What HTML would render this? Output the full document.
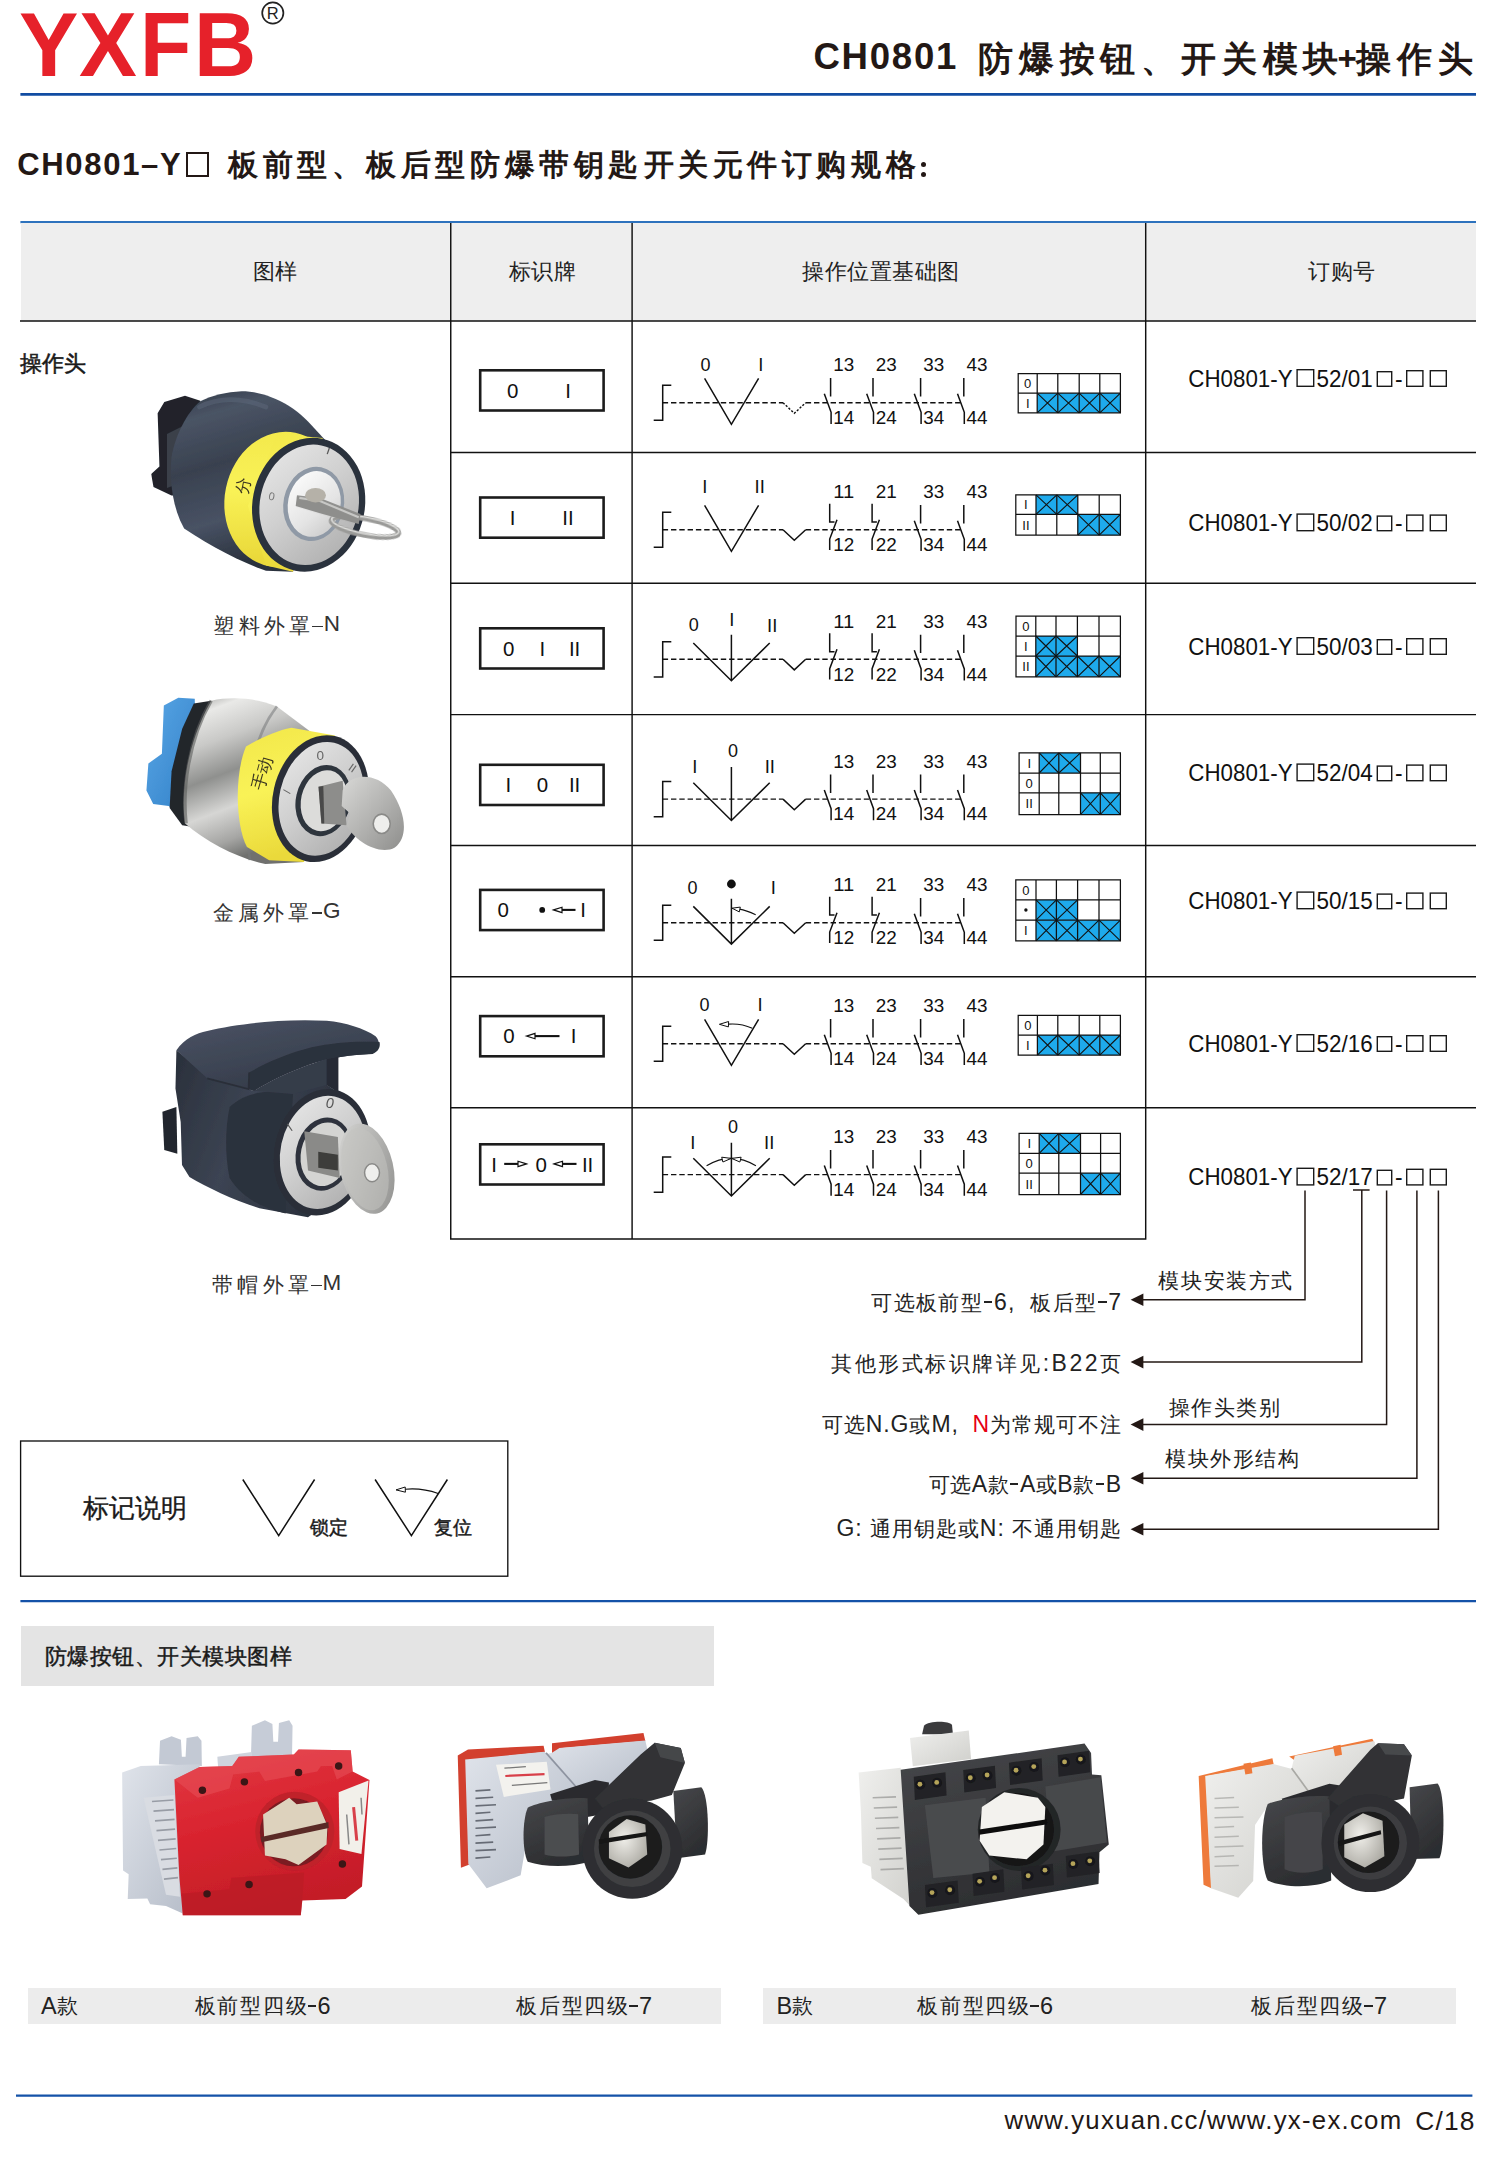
<!DOCTYPE html>
<html lang="zh"><head><meta charset="utf-8"><title>CH0801</title>
<style>
html,body{margin:0;padding:0;background:#fff}
body{width:1500px;height:2162px;position:relative;overflow:hidden;font-family:"Liberation Sans",sans-serif;color:#231815}
.a{position:absolute;white-space:nowrap;line-height:1}
.ln{position:absolute;background:#111}
.bl{position:absolute;background:#1b5fb4}
svg{position:absolute;left:0;top:0;overflow:visible}
svg text{font-family:"Liberation Sans",sans-serif;fill:#111}
.hd{font-size:22px;letter-spacing:0.5px;color:#222}
.cap{font-size:21px;letter-spacing:4.3px;color:#333}
.ord{font-size:23px;color:#1a1a1a}
.co{font-size:21px;letter-spacing:1px;color:#222}.co i{font-style:normal;font-size:23px}.bl2 i{font-style:normal;font-size:23.5px;letter-spacing:0;position:relative;top:0.4px}.bl2 .d{margin:0 1.2px 0 -0.8px;height:2px;vertical-align:6.4px;width:8.5px}.cap i{font-style:normal;font-size:22.5px;letter-spacing:0;position:relative;top:-1.6px;margin-left:-1.3px}.cap .d{width:10.5px;height:1.4px;margin:0 2px 0 -2px;vertical-align:6px;background:#333}.d{display:inline-block;width:8.2px;height:1.7px;background:#222;vertical-align:7.2px;margin:0 1.6px 0 1.2px}
.sq{display:inline-block;box-sizing:border-box;border:1.4px solid #222;vertical-align:baseline}
</style></head><body>
<div class="a" style="left:18.7px;top:0.2px;font-size:90.5px;font-weight:bold;color:#e6212a;line-height:90.5px;transform:scaleX(0.984);transform-origin:0 0">Y</div><div class="a" style="left:79.0px;top:0.2px;font-size:90.5px;font-weight:bold;color:#e6212a;line-height:90.5px;transform:scaleX(0.958);transform-origin:0 0">X</div><div class="a" style="left:139.5px;top:0.2px;font-size:90.5px;font-weight:bold;color:#e6212a;line-height:90.5px;transform:scaleX(0.928);transform-origin:0 0">F</div><div class="a" style="left:193.8px;top:0.2px;font-size:90.5px;font-weight:bold;color:#e6212a;line-height:90.5px;transform:scaleX(0.952);transform-origin:0 0">B</div><svg width="1500" height="110"><circle cx="272.8" cy="13" r="10.6" fill="none" stroke="#222" stroke-width="1.7"/><text x="272.8" y="18.9" text-anchor="middle" font-size="16.5" style="fill:#222">R</text></svg><div class="a" id="t1" style="left:813.4px;top:38.6px;font-size:36.6px;letter-spacing:1.75px;font-weight:bold;color:#231815;">CH0801</div><div class="a" id="t2" style="left:978.4px;top:40.6px;font-size:35px;letter-spacing:5.7px;font-weight:bold;color:#231815;">防爆按钮、</div><div class="a" id="t3" style="left:1181.2px;top:40.6px;font-size:35px;letter-spacing:5.7px;font-weight:bold;color:#231815;">开关模块</div><div class="a" id="t4" style="left:1356.4px;top:40.6px;font-size:35px;letter-spacing:5.7px;font-weight:bold;color:#231815;">操作头</div><div class="a" id="t5" style="left:1337.6px;top:41.9px;font-size:33px;font-weight:bold;color:#231815;">+</div><svg width="1500" height="2162"><path d="M20.4 94.3H1476" stroke="#114ca2" stroke-width="2.8"/><path d="M20.4 222.1H1476" stroke="#2d72bd" stroke-width="2.2"/><path d="M20.4 1601.1H1476" stroke="#1452a8" stroke-width="2.2"/><path d="M16 2095.7H1472.4" stroke="#1452a8" stroke-width="2.3"/></svg><div class="a" id="s1" style="left:17.2px;top:149.4px;font-size:31px;letter-spacing:1.7px;font-weight:bold;color:#231815;">CH0801–Y</div><div class="a" style="left:185.5px;top:152.2px;width:23.5px;height:25px;box-sizing:border-box;border:2px solid #231815"></div><div class="a" id="s2" style="left:228.2px;top:150.2px;font-size:30px;letter-spacing:4.55px;font-weight:bold;color:#231815;">板前型、板后型防爆带钥匙</div><div class="a" id="s3" style="left:643.7px;top:150.2px;font-size:30px;letter-spacing:4.55px;font-weight:bold;color:#231815;">开关元件订购规格</div><div class="a" style="left:921px;top:161.5px;width:5px;height:5px;border-radius:3px;background:#231815"></div><div class="a" style="left:921px;top:172px;width:5px;height:5px;border-radius:3px;background:#231815"></div><div class="a" style="left:21px;top:223px;width:1455px;height:98px;background:#eeeeee"></div><svg width="1500" height="2162"><path d="M20 321.05H1476M450.75 223V1239.5M632.1 223V1239.5M1145.7 223V1239.5M450.75 452.4H1476M450.75 583.2H1476M450.75 714.6H1476M450.75 845.5H1476M450.75 976.8H1476M450.75 1107.8H1476M450 1238.9H1146.4" fill="none" stroke="#111" stroke-width="1.45"/></svg><div class="a hd" style="left:125px;top:260.5px;width:300px;text-align:center">图样</div><div class="a hd" style="left:392.5px;top:260.5px;width:300px;text-align:center">标识牌</div><div class="a hd" style="left:731px;top:260.5px;width:300px;text-align:center">操作位置基础图</div><div class="a hd" style="left:1192px;top:260.5px;width:300px;text-align:center">订购号</div><div class="a" style="left:20px;top:352.5px;font-size:22px;color:#1a1a1a;-webkit-text-stroke:0.55px #1a1a1a">操作头</div><svg width="1500" height="2162"><rect x="480.2" y="370.3" width="123.4" height="40.2" fill="none" stroke="#1c1c1c" stroke-width="2.6"/><text x="512.8" y="397.6" font-size="20.5" text-anchor="middle">0</text><text x="568.2" y="397.6" font-size="20.5" text-anchor="middle">I</text><rect x="480.2" y="497.5" width="123.4" height="40.2" fill="none" stroke="#1c1c1c" stroke-width="2.6"/><text x="512.6" y="524.8" font-size="20.5" text-anchor="middle">I</text><text x="568.0" y="524.8" font-size="20.5" text-anchor="middle">II</text><rect x="480.2" y="628.3" width="123.4" height="40.2" fill="none" stroke="#1c1c1c" stroke-width="2.6"/><text x="508.6" y="655.6" font-size="20.5" text-anchor="middle">0</text><text x="542.4" y="655.6" font-size="20.5" text-anchor="middle">I</text><text x="574.6" y="655.6" font-size="20.5" text-anchor="middle">II</text><rect x="480.2" y="764.8" width="123.4" height="40.2" fill="none" stroke="#1c1c1c" stroke-width="2.6"/><text x="508.4" y="792.1" font-size="20.5" text-anchor="middle">I</text><text x="542.4" y="792.1" font-size="20.5" text-anchor="middle">0</text><text x="574.6" y="792.1" font-size="20.5" text-anchor="middle">II</text><rect x="480.2" y="889.9" width="123.4" height="40.2" fill="none" stroke="#1c1c1c" stroke-width="2.6"/><text x="503.2" y="917.2" font-size="20.5" text-anchor="middle">0</text><text x="583.2" y="917.2" font-size="20.5" text-anchor="middle">I</text><circle cx="542.2" cy="909.9" r="2.9" fill="#111"/><path d="M553.5 909.9L562.0 907.2L562.0 912.6Z" fill="#fff" stroke="#111" stroke-width="1.2" stroke-linejoin="miter"/><path d="M562.0 909.9H575.5" stroke="#111" stroke-width="2.1" fill="none"/><rect x="480.2" y="1016.1" width="123.4" height="40.2" fill="none" stroke="#1c1c1c" stroke-width="2.6"/><text x="509.0" y="1043.4" font-size="20.5" text-anchor="middle">0</text><text x="573.6" y="1043.4" font-size="20.5" text-anchor="middle">I</text><path d="M526.5 1036.1L535.0 1033.4L535.0 1038.8Z" fill="#fff" stroke="#111" stroke-width="1.2" stroke-linejoin="miter"/><path d="M535.0 1036.1H559.5" stroke="#111" stroke-width="2.1" fill="none"/><rect x="480.2" y="1144.3" width="123.4" height="40.2" fill="none" stroke="#1c1c1c" stroke-width="2.6"/><text x="494.0" y="1171.6" font-size="20.5" text-anchor="middle">I</text><text x="541.2" y="1171.6" font-size="20.5" text-anchor="middle">0</text><text x="587.6" y="1171.6" font-size="20.5" text-anchor="middle">II</text><path d="M526.5 1163.9L518.0 1161.2L518.0 1166.6Z" fill="#fff" stroke="#111" stroke-width="1.2"/><path d="M504.2 1163.9H518.0" stroke="#111" stroke-width="2.1" fill="none"/><path d="M554.0 1163.9L562.5 1161.2L562.5 1166.6Z" fill="#fff" stroke="#111" stroke-width="1.2" stroke-linejoin="miter"/><path d="M562.5 1163.9H576.5" stroke="#111" stroke-width="2.1" fill="none"/></svg><svg width="1500" height="2162"><path d="M671.3 385.2H662.7V420.3H653.7" fill="none" stroke="#111" stroke-width="1.5" /><path d="M662.7 402.7H783" fill="none" stroke="#111" stroke-width="1.45" stroke-dasharray="5.4 2.9"/><path d="M805.7 402.7H960.5" fill="none" stroke="#111" stroke-width="1.45" stroke-dasharray="5.4 2.9"/><path d="M783 402.7L794.3 413.3L805.7 402.7" fill="none" stroke="#111" stroke-width="1.45" stroke-dasharray="2.2 1.6"/><path d="M704.6 378.3L731.4 424.3L758.6 378.3" fill="none" stroke="#111" stroke-width="1.5" stroke-linejoin="miter"/><text x="705.5" y="371.3" font-size="18" text-anchor="middle">0</text><text x="760.9" y="370.8" font-size="18.5" text-anchor="middle">I</text><path d="M830.6 378.1V396.5 M824.3 393.7L831.1 412.3V423.9" fill="none" stroke="#111" stroke-width="1.5" /><text x="833.3" y="371.1" font-size="18" textLength="21" lengthAdjust="spacingAndGlyphs">13</text><text x="833.3" y="423.9" font-size="18" textLength="21" lengthAdjust="spacingAndGlyphs">14</text><path d="M873.0 378.1V396.5 M866.7 393.7L873.5 412.3V423.9" fill="none" stroke="#111" stroke-width="1.5" /><text x="875.7" y="371.1" font-size="18" textLength="21" lengthAdjust="spacingAndGlyphs">23</text><text x="875.7" y="423.9" font-size="18" textLength="21" lengthAdjust="spacingAndGlyphs">24</text><path d="M920.6 378.1V396.5 M914.3 393.7L921.1 412.3V423.9" fill="none" stroke="#111" stroke-width="1.5" /><text x="923.3" y="371.1" font-size="18" textLength="21" lengthAdjust="spacingAndGlyphs">33</text><text x="923.3" y="423.9" font-size="18" textLength="21" lengthAdjust="spacingAndGlyphs">34</text><path d="M963.8 378.1V396.5 M957.5 393.7L964.3 412.3V423.9" fill="none" stroke="#111" stroke-width="1.5" /><text x="966.5" y="371.1" font-size="18" textLength="21" lengthAdjust="spacingAndGlyphs">43</text><text x="966.5" y="423.9" font-size="18" textLength="21" lengthAdjust="spacingAndGlyphs">44</text><path d="M671.3 512.2H662.7V547.3H653.7" fill="none" stroke="#111" stroke-width="1.5" /><path d="M662.7 529.7H783" fill="none" stroke="#111" stroke-width="1.45" stroke-dasharray="5.4 2.9"/><path d="M805.7 529.7H960.5" fill="none" stroke="#111" stroke-width="1.45" stroke-dasharray="5.4 2.9"/><path d="M783 529.7L794.3 540.3L805.7 529.7" fill="none" stroke="#111" stroke-width="1.5" /><path d="M704.6 505.3L731.4 551.3L758.6 505.3" fill="none" stroke="#111" stroke-width="1.5" stroke-linejoin="miter"/><text x="704.8" y="493.4" font-size="18.5" text-anchor="middle">I</text><text x="759.7" y="493.4" font-size="18.5" text-anchor="middle">II</text><path d="M829.7 503.7V522.1H834.5 M837.0 519.7L829.7 539.1V549.9" fill="none" stroke="#111" stroke-width="1.5" /><text x="833.3" y="498.1" font-size="18" textLength="21" lengthAdjust="spacingAndGlyphs">11</text><text x="833.3" y="550.9" font-size="18" textLength="21" lengthAdjust="spacingAndGlyphs">12</text><path d="M872.1 503.7V522.1H876.9 M879.4 519.7L872.1 539.1V549.9" fill="none" stroke="#111" stroke-width="1.5" /><text x="875.7" y="498.1" font-size="18" textLength="21" lengthAdjust="spacingAndGlyphs">21</text><text x="875.7" y="550.9" font-size="18" textLength="21" lengthAdjust="spacingAndGlyphs">22</text><path d="M920.6 505.1V523.5 M914.3 520.7L921.1 539.3V550.9" fill="none" stroke="#111" stroke-width="1.5" /><text x="923.3" y="498.1" font-size="18" textLength="21" lengthAdjust="spacingAndGlyphs">33</text><text x="923.3" y="550.9" font-size="18" textLength="21" lengthAdjust="spacingAndGlyphs">34</text><path d="M963.8 505.1V523.5 M957.5 520.7L964.3 539.3V550.9" fill="none" stroke="#111" stroke-width="1.5" /><text x="966.5" y="498.1" font-size="18" textLength="21" lengthAdjust="spacingAndGlyphs">43</text><text x="966.5" y="550.9" font-size="18" textLength="21" lengthAdjust="spacingAndGlyphs">44</text><path d="M671.3 641.8H662.7V676.9H653.7" fill="none" stroke="#111" stroke-width="1.5" /><path d="M662.7 659.3H783" fill="none" stroke="#111" stroke-width="1.45" stroke-dasharray="5.4 2.9"/><path d="M805.7 659.3H960.5" fill="none" stroke="#111" stroke-width="1.45" stroke-dasharray="5.4 2.9"/><path d="M783 659.3L794.3 669.9L805.7 659.3" fill="none" stroke="#111" stroke-width="1.5" /><path d="M693.3 643.0L731.4 680.7L769.7 643.0 M731.4 680.7V634.8" fill="none" stroke="#111" stroke-width="1.5" /><text x="693.7" y="631.0" font-size="18" text-anchor="middle">0</text><text x="731.7" y="625.7" font-size="18.5" text-anchor="middle">I</text><text x="772.2" y="632.1" font-size="18.5" text-anchor="middle">II</text><path d="M829.7 633.3V651.7H834.5 M837.0 649.3L829.7 668.7V679.5" fill="none" stroke="#111" stroke-width="1.5" /><text x="833.3" y="627.7" font-size="18" textLength="21" lengthAdjust="spacingAndGlyphs">11</text><text x="833.3" y="680.5" font-size="18" textLength="21" lengthAdjust="spacingAndGlyphs">12</text><path d="M872.1 633.3V651.7H876.9 M879.4 649.3L872.1 668.7V679.5" fill="none" stroke="#111" stroke-width="1.5" /><text x="875.7" y="627.7" font-size="18" textLength="21" lengthAdjust="spacingAndGlyphs">21</text><text x="875.7" y="680.5" font-size="18" textLength="21" lengthAdjust="spacingAndGlyphs">22</text><path d="M920.6 634.7V653.1 M914.3 650.3L921.1 668.9V680.5" fill="none" stroke="#111" stroke-width="1.5" /><text x="923.3" y="627.7" font-size="18" textLength="21" lengthAdjust="spacingAndGlyphs">33</text><text x="923.3" y="680.5" font-size="18" textLength="21" lengthAdjust="spacingAndGlyphs">34</text><path d="M963.8 634.7V653.1 M957.5 650.3L964.3 668.9V680.5" fill="none" stroke="#111" stroke-width="1.5" /><text x="966.5" y="627.7" font-size="18" textLength="21" lengthAdjust="spacingAndGlyphs">43</text><text x="966.5" y="680.5" font-size="18" textLength="21" lengthAdjust="spacingAndGlyphs">44</text><path d="M671.3 781.6H662.7V816.7H653.7" fill="none" stroke="#111" stroke-width="1.5" /><path d="M662.7 799.1H783" fill="none" stroke="#111" stroke-width="1.45" stroke-dasharray="5.4 2.9"/><path d="M805.7 799.1H960.5" fill="none" stroke="#111" stroke-width="1.45" stroke-dasharray="5.4 2.9"/><path d="M783 799.1L794.3 809.7L805.7 799.1" fill="none" stroke="#111" stroke-width="1.5" /><path d="M693.3 782.8L731.4 820.5L769.7 782.8 M731.4 820.5V767.1" fill="none" stroke="#111" stroke-width="1.5" /><text x="694.7" y="773.3" font-size="18.5" text-anchor="middle">I</text><text x="732.9" y="757.3" font-size="18" text-anchor="middle">0</text><text x="769.8" y="772.7" font-size="18.5" text-anchor="middle">II</text><path d="M830.6 774.5V792.9 M824.3 790.1L831.1 808.7V820.3" fill="none" stroke="#111" stroke-width="1.5" /><text x="833.3" y="767.5" font-size="18" textLength="21" lengthAdjust="spacingAndGlyphs">13</text><text x="833.3" y="820.3" font-size="18" textLength="21" lengthAdjust="spacingAndGlyphs">14</text><path d="M873.0 774.5V792.9 M866.7 790.1L873.5 808.7V820.3" fill="none" stroke="#111" stroke-width="1.5" /><text x="875.7" y="767.5" font-size="18" textLength="21" lengthAdjust="spacingAndGlyphs">23</text><text x="875.7" y="820.3" font-size="18" textLength="21" lengthAdjust="spacingAndGlyphs">24</text><path d="M920.6 774.5V792.9 M914.3 790.1L921.1 808.7V820.3" fill="none" stroke="#111" stroke-width="1.5" /><text x="923.3" y="767.5" font-size="18" textLength="21" lengthAdjust="spacingAndGlyphs">33</text><text x="923.3" y="820.3" font-size="18" textLength="21" lengthAdjust="spacingAndGlyphs">34</text><path d="M963.8 774.5V792.9 M957.5 790.1L964.3 808.7V820.3" fill="none" stroke="#111" stroke-width="1.5" /><text x="966.5" y="767.5" font-size="18" textLength="21" lengthAdjust="spacingAndGlyphs">43</text><text x="966.5" y="820.3" font-size="18" textLength="21" lengthAdjust="spacingAndGlyphs">44</text><path d="M671.3 905.2H662.7V940.3H653.7" fill="none" stroke="#111" stroke-width="1.5" /><path d="M662.7 922.7H783" fill="none" stroke="#111" stroke-width="1.45" stroke-dasharray="5.4 2.9"/><path d="M805.7 922.7H960.5" fill="none" stroke="#111" stroke-width="1.45" stroke-dasharray="5.4 2.9"/><path d="M783 922.7L794.3 933.3L805.7 922.7" fill="none" stroke="#111" stroke-width="1.5" /><path d="M693.3 906.4L731.4 944.1L769.7 906.4 M731.4 944.1V898.7" fill="none" stroke="#111" stroke-width="1.5" /><text x="692.6" y="894.4" font-size="18" text-anchor="middle">0</text><text x="773.3" y="894.4" font-size="18.5" text-anchor="middle">I</text><circle cx="731.4" cy="884.0" r="4.4" fill="#111"/><path d="M755.7 914.7Q746 910.1 739.5 909.1" fill="none" stroke="#111" stroke-width="1.1" /><path d="M732 908.2L740.3 907.1L739.3 911.9Z" fill="#fff" stroke="#111" stroke-width="1"/><path d="M829.7 896.7V915.1H834.5 M837.0 912.7L829.7 932.1V942.9" fill="none" stroke="#111" stroke-width="1.5" /><text x="833.3" y="891.1" font-size="18" textLength="21" lengthAdjust="spacingAndGlyphs">11</text><text x="833.3" y="943.9" font-size="18" textLength="21" lengthAdjust="spacingAndGlyphs">12</text><path d="M872.1 896.7V915.1H876.9 M879.4 912.7L872.1 932.1V942.9" fill="none" stroke="#111" stroke-width="1.5" /><text x="875.7" y="891.1" font-size="18" textLength="21" lengthAdjust="spacingAndGlyphs">21</text><text x="875.7" y="943.9" font-size="18" textLength="21" lengthAdjust="spacingAndGlyphs">22</text><path d="M920.6 898.1V916.5 M914.3 913.7L921.1 932.3V943.9" fill="none" stroke="#111" stroke-width="1.5" /><text x="923.3" y="891.1" font-size="18" textLength="21" lengthAdjust="spacingAndGlyphs">33</text><text x="923.3" y="943.9" font-size="18" textLength="21" lengthAdjust="spacingAndGlyphs">34</text><path d="M963.8 898.1V916.5 M957.5 913.7L964.3 932.3V943.9" fill="none" stroke="#111" stroke-width="1.5" /><text x="966.5" y="891.1" font-size="18" textLength="21" lengthAdjust="spacingAndGlyphs">43</text><text x="966.5" y="943.9" font-size="18" textLength="21" lengthAdjust="spacingAndGlyphs">44</text><path d="M671.3 1026.2H662.7V1061.3H653.7" fill="none" stroke="#111" stroke-width="1.5" /><path d="M662.7 1043.7H783" fill="none" stroke="#111" stroke-width="1.45" stroke-dasharray="5.4 2.9"/><path d="M805.7 1043.7H960.5" fill="none" stroke="#111" stroke-width="1.45" stroke-dasharray="5.4 2.9"/><path d="M783 1043.7L794.3 1054.3L805.7 1043.7" fill="none" stroke="#111" stroke-width="1.5" /><path d="M704.6 1019.3L731.4 1065.3L758.6 1019.3" fill="none" stroke="#111" stroke-width="1.5" stroke-linejoin="miter"/><text x="704.6" y="1011.3" font-size="18" text-anchor="middle">0</text><text x="760.0" y="1011.3" font-size="18.5" text-anchor="middle">I</text><path d="M752.3 1028.3Q741 1023.1 728.5 1024.1" fill="none" stroke="#111" stroke-width="1.1" /><path d="M719.4 1024.3L728.6 1021.5L728.4 1026.9Z" fill="#fff" stroke="#111" stroke-width="1"/><path d="M830.6 1019.1V1037.5 M824.3 1034.7L831.1 1053.3V1064.9" fill="none" stroke="#111" stroke-width="1.5" /><text x="833.3" y="1012.1" font-size="18" textLength="21" lengthAdjust="spacingAndGlyphs">13</text><text x="833.3" y="1064.9" font-size="18" textLength="21" lengthAdjust="spacingAndGlyphs">14</text><path d="M873.0 1019.1V1037.5 M866.7 1034.7L873.5 1053.3V1064.9" fill="none" stroke="#111" stroke-width="1.5" /><text x="875.7" y="1012.1" font-size="18" textLength="21" lengthAdjust="spacingAndGlyphs">23</text><text x="875.7" y="1064.9" font-size="18" textLength="21" lengthAdjust="spacingAndGlyphs">24</text><path d="M920.6 1019.1V1037.5 M914.3 1034.7L921.1 1053.3V1064.9" fill="none" stroke="#111" stroke-width="1.5" /><text x="923.3" y="1012.1" font-size="18" textLength="21" lengthAdjust="spacingAndGlyphs">33</text><text x="923.3" y="1064.9" font-size="18" textLength="21" lengthAdjust="spacingAndGlyphs">34</text><path d="M963.8 1019.1V1037.5 M957.5 1034.7L964.3 1053.3V1064.9" fill="none" stroke="#111" stroke-width="1.5" /><text x="966.5" y="1012.1" font-size="18" textLength="21" lengthAdjust="spacingAndGlyphs">43</text><text x="966.5" y="1064.9" font-size="18" textLength="21" lengthAdjust="spacingAndGlyphs">44</text><path d="M671.3 1157.1H662.7V1192.2H653.7" fill="none" stroke="#111" stroke-width="1.5" /><path d="M662.7 1174.6H783" fill="none" stroke="#111" stroke-width="1.45" stroke-dasharray="5.4 2.9"/><path d="M805.7 1174.6H960.5" fill="none" stroke="#111" stroke-width="1.45" stroke-dasharray="5.4 2.9"/><path d="M783 1174.6L794.3 1185.2L805.7 1174.6" fill="none" stroke="#111" stroke-width="1.5" /><path d="M693.3 1158.3L731.4 1196.0L769.7 1158.3 M731.4 1196.0V1142.7" fill="none" stroke="#111" stroke-width="1.5" /><text x="692.7" y="1149.4" font-size="18.5" text-anchor="middle">I</text><text x="732.9" y="1133.3" font-size="18" text-anchor="middle">0</text><text x="769.2" y="1149.0" font-size="18.5" text-anchor="middle">II</text><path d="M706.6 1165.7Q731.3 1151.0 755.9 1165.7" fill="none" stroke="#111" stroke-width="1.15" /><path d="M731.2 1158.4L721.7 1157.2L722.9 1162.0Z" fill="#fff" stroke="#111" stroke-width="1"/><path d="M731.6 1158.4L741.1 1157.2L739.9 1162.0Z" fill="#fff" stroke="#111" stroke-width="1"/><path d="M830.6 1150.0V1168.4 M824.3 1165.6L831.1 1184.2V1195.8" fill="none" stroke="#111" stroke-width="1.5" /><text x="833.3" y="1143.0" font-size="18" textLength="21" lengthAdjust="spacingAndGlyphs">13</text><text x="833.3" y="1195.8" font-size="18" textLength="21" lengthAdjust="spacingAndGlyphs">14</text><path d="M873.0 1150.0V1168.4 M866.7 1165.6L873.5 1184.2V1195.8" fill="none" stroke="#111" stroke-width="1.5" /><text x="875.7" y="1143.0" font-size="18" textLength="21" lengthAdjust="spacingAndGlyphs">23</text><text x="875.7" y="1195.8" font-size="18" textLength="21" lengthAdjust="spacingAndGlyphs">24</text><path d="M920.6 1150.0V1168.4 M914.3 1165.6L921.1 1184.2V1195.8" fill="none" stroke="#111" stroke-width="1.5" /><text x="923.3" y="1143.0" font-size="18" textLength="21" lengthAdjust="spacingAndGlyphs">33</text><text x="923.3" y="1195.8" font-size="18" textLength="21" lengthAdjust="spacingAndGlyphs">34</text><path d="M963.8 1150.0V1168.4 M957.5 1165.6L964.3 1184.2V1195.8" fill="none" stroke="#111" stroke-width="1.5" /><text x="966.5" y="1143.0" font-size="18" textLength="21" lengthAdjust="spacingAndGlyphs">43</text><text x="966.5" y="1195.8" font-size="18" textLength="21" lengthAdjust="spacingAndGlyphs">44</text></svg><svg width="1500" height="2162"><rect x="1037.2" y="393.2" width="20.6" height="19.6" fill="#1eaaec"/><path d="M1037.2 393.2L1057.8 412.8M1057.8 393.2L1037.2 412.8" stroke="#111" stroke-width="1.1"/><rect x="1057.8" y="393.2" width="21.4" height="19.6" fill="#1eaaec"/><path d="M1057.8 393.2L1079.2 412.8M1079.2 393.2L1057.8 412.8" stroke="#111" stroke-width="1.1"/><rect x="1079.2" y="393.2" width="20.6" height="19.6" fill="#1eaaec"/><path d="M1079.2 393.2L1099.8 412.8M1099.8 393.2L1079.2 412.8" stroke="#111" stroke-width="1.1"/><rect x="1099.8" y="393.2" width="20.6" height="19.6" fill="#1eaaec"/><path d="M1099.8 393.2L1120.4 412.8M1120.4 393.2L1099.8 412.8" stroke="#111" stroke-width="1.1"/><path d="M1018.2 373.6V412.8M1037.2 373.6V412.8M1057.8 373.6V412.8M1079.2 373.6V412.8M1099.8 373.6V412.8M1120.4 373.6V412.8M1018.2 373.6H1120.4M1018.2 393.2H1120.4M1018.2 412.8H1120.4" stroke="#111" stroke-width="1.25" fill="none" stroke-linecap="square"/><text x="1027.7" y="388.1" font-size="13" text-anchor="middle">0</text><text x="1027.7" y="407.7" font-size="13" text-anchor="middle">I</text><rect x="1036.0" y="494.9" width="20.8" height="19.5" fill="#1eaaec"/><path d="M1036.0 494.9L1056.8 514.4M1056.8 494.9L1036.0 514.4" stroke="#111" stroke-width="1.1"/><rect x="1056.8" y="494.9" width="21.0" height="19.5" fill="#1eaaec"/><path d="M1056.8 494.9L1077.8 514.4M1077.8 494.9L1056.8 514.4" stroke="#111" stroke-width="1.1"/><rect x="1077.8" y="514.4" width="21.4" height="20.8" fill="#1eaaec"/><path d="M1077.8 514.4L1099.2 535.2M1099.2 514.4L1077.8 535.2" stroke="#111" stroke-width="1.1"/><rect x="1099.2" y="514.4" width="21.2" height="20.8" fill="#1eaaec"/><path d="M1099.2 514.4L1120.4 535.2M1120.4 514.4L1099.2 535.2" stroke="#111" stroke-width="1.1"/><path d="M1015.8 494.9V535.2M1036.0 494.9V535.2M1056.8 494.9V535.2M1077.8 494.9V535.2M1099.2 494.9V535.2M1120.4 494.9V535.2M1015.8 494.9H1120.4M1015.8 514.4H1120.4M1015.8 535.2H1120.4" stroke="#111" stroke-width="1.25" fill="none" stroke-linecap="square"/><text x="1025.9" y="509.3" font-size="13" text-anchor="middle">I</text><text x="1025.9" y="529.5" font-size="13" text-anchor="middle">II</text><rect x="1035.8" y="636.0" width="20.2" height="20.0" fill="#1eaaec"/><path d="M1035.8 636.0L1056.0 656.0M1056.0 636.0L1035.8 656.0" stroke="#111" stroke-width="1.1"/><rect x="1056.0" y="636.0" width="21.4" height="20.0" fill="#1eaaec"/><path d="M1056.0 636.0L1077.4 656.0M1077.4 636.0L1056.0 656.0" stroke="#111" stroke-width="1.1"/><rect x="1035.8" y="656.0" width="20.2" height="20.8" fill="#1eaaec"/><path d="M1035.8 656.0L1056.0 676.8M1056.0 656.0L1035.8 676.8" stroke="#111" stroke-width="1.1"/><rect x="1056.0" y="656.0" width="21.4" height="20.8" fill="#1eaaec"/><path d="M1056.0 656.0L1077.4 676.8M1077.4 656.0L1056.0 676.8" stroke="#111" stroke-width="1.1"/><rect x="1077.4" y="656.0" width="21.6" height="20.8" fill="#1eaaec"/><path d="M1077.4 656.0L1099.0 676.8M1099.0 656.0L1077.4 676.8" stroke="#111" stroke-width="1.1"/><rect x="1099.0" y="656.0" width="21.4" height="20.8" fill="#1eaaec"/><path d="M1099.0 656.0L1120.4 676.8M1120.4 656.0L1099.0 676.8" stroke="#111" stroke-width="1.1"/><path d="M1016.0 616.2V676.8M1035.8 616.2V676.8M1056.0 616.2V676.8M1077.4 616.2V676.8M1099.0 616.2V676.8M1120.4 616.2V676.8M1016.0 616.2H1120.4M1016.0 636.0H1120.4M1016.0 656.0H1120.4M1016.0 676.8H1120.4" stroke="#111" stroke-width="1.25" fill="none" stroke-linecap="square"/><text x="1025.9" y="630.8" font-size="13" text-anchor="middle">0</text><text x="1025.9" y="650.7" font-size="13" text-anchor="middle">I</text><text x="1025.9" y="671.1" font-size="13" text-anchor="middle">II</text><rect x="1039.2" y="752.9" width="19.6" height="20.1" fill="#1eaaec"/><path d="M1039.2 752.9L1058.8 773.0M1058.8 752.9L1039.2 773.0" stroke="#111" stroke-width="1.1"/><rect x="1058.8" y="752.9" width="21.7" height="20.1" fill="#1eaaec"/><path d="M1058.8 752.9L1080.5 773.0M1080.5 752.9L1058.8 773.0" stroke="#111" stroke-width="1.1"/><rect x="1080.5" y="792.8" width="19.8" height="21.7" fill="#1eaaec"/><path d="M1080.5 792.8L1100.3 814.5M1100.3 792.8L1080.5 814.5" stroke="#111" stroke-width="1.1"/><rect x="1100.3" y="792.8" width="20.1" height="21.7" fill="#1eaaec"/><path d="M1100.3 792.8L1120.4 814.5M1120.4 792.8L1100.3 814.5" stroke="#111" stroke-width="1.1"/><path d="M1019.1 752.9V814.5M1039.2 752.9V814.5M1058.8 752.9V814.5M1080.5 752.9V814.5M1100.3 752.9V814.5M1120.4 752.9V814.5M1019.1 752.9H1120.4M1019.1 773.0H1120.4M1019.1 792.8H1120.4M1019.1 814.5H1120.4" stroke="#111" stroke-width="1.25" fill="none" stroke-linecap="square"/><text x="1029.2" y="767.7" font-size="13" text-anchor="middle">I</text><text x="1029.2" y="787.6" font-size="13" text-anchor="middle">0</text><text x="1029.2" y="808.4" font-size="13" text-anchor="middle">II</text><rect x="1036.0" y="899.9" width="20.4" height="20.3" fill="#1eaaec"/><path d="M1036.0 899.9L1056.4 920.2M1056.4 899.9L1036.0 920.2" stroke="#111" stroke-width="1.1"/><rect x="1056.4" y="899.9" width="21.2" height="20.3" fill="#1eaaec"/><path d="M1056.4 899.9L1077.6 920.2M1077.6 899.9L1056.4 920.2" stroke="#111" stroke-width="1.1"/><rect x="1036.0" y="920.2" width="20.4" height="20.6" fill="#1eaaec"/><path d="M1036.0 920.2L1056.4 940.8M1056.4 920.2L1036.0 940.8" stroke="#111" stroke-width="1.1"/><rect x="1056.4" y="920.2" width="21.2" height="20.6" fill="#1eaaec"/><path d="M1056.4 920.2L1077.6 940.8M1077.6 920.2L1056.4 940.8" stroke="#111" stroke-width="1.1"/><rect x="1077.6" y="920.2" width="21.4" height="20.6" fill="#1eaaec"/><path d="M1077.6 920.2L1099.0 940.8M1099.0 920.2L1077.6 940.8" stroke="#111" stroke-width="1.1"/><rect x="1099.0" y="920.2" width="21.4" height="20.6" fill="#1eaaec"/><path d="M1099.0 920.2L1120.4 940.8M1120.4 920.2L1099.0 940.8" stroke="#111" stroke-width="1.1"/><path d="M1015.8 879.9V940.8M1036.0 879.9V940.8M1056.4 879.9V940.8M1077.6 879.9V940.8M1099.0 879.9V940.8M1120.4 879.9V940.8M1015.8 879.9H1120.4M1015.8 899.9H1120.4M1015.8 920.2H1120.4M1015.8 940.8H1120.4" stroke="#111" stroke-width="1.25" fill="none" stroke-linecap="square"/><text x="1025.9" y="894.6" font-size="13" text-anchor="middle">0</text><circle cx="1025.9" cy="910.0" r="1.7" fill="#111"/><text x="1025.9" y="935.2" font-size="13" text-anchor="middle">I</text><rect x="1037.4" y="1035.0" width="20.4" height="20.1" fill="#1eaaec"/><path d="M1037.4 1035.0L1057.8 1055.1M1057.8 1035.0L1037.4 1055.1" stroke="#111" stroke-width="1.1"/><rect x="1057.8" y="1035.0" width="21.4" height="20.1" fill="#1eaaec"/><path d="M1057.8 1035.0L1079.2 1055.1M1079.2 1035.0L1057.8 1055.1" stroke="#111" stroke-width="1.1"/><rect x="1079.2" y="1035.0" width="20.6" height="20.1" fill="#1eaaec"/><path d="M1079.2 1035.0L1099.8 1055.1M1099.8 1035.0L1079.2 1055.1" stroke="#111" stroke-width="1.1"/><rect x="1099.8" y="1035.0" width="20.6" height="20.1" fill="#1eaaec"/><path d="M1099.8 1035.0L1120.4 1055.1M1120.4 1035.0L1099.8 1055.1" stroke="#111" stroke-width="1.1"/><path d="M1018.2 1015.4V1055.1M1037.4 1015.4V1055.1M1057.8 1015.4V1055.1M1079.2 1015.4V1055.1M1099.8 1015.4V1055.1M1120.4 1015.4V1055.1M1018.2 1015.4H1120.4M1018.2 1035.0H1120.4M1018.2 1055.1H1120.4" stroke="#111" stroke-width="1.25" fill="none" stroke-linecap="square"/><text x="1027.8" y="1029.9" font-size="13" text-anchor="middle">0</text><text x="1027.8" y="1049.8" font-size="13" text-anchor="middle">I</text><rect x="1039.2" y="1133.4" width="19.6" height="19.9" fill="#1eaaec"/><path d="M1039.2 1133.4L1058.8 1153.3M1058.8 1133.4L1039.2 1153.3" stroke="#111" stroke-width="1.1"/><rect x="1058.8" y="1133.4" width="21.7" height="19.9" fill="#1eaaec"/><path d="M1058.8 1133.4L1080.5 1153.3M1080.5 1133.4L1058.8 1153.3" stroke="#111" stroke-width="1.1"/><rect x="1080.5" y="1173.1" width="20.1" height="21.4" fill="#1eaaec"/><path d="M1080.5 1173.1L1100.6 1194.5M1100.6 1173.1L1080.5 1194.5" stroke="#111" stroke-width="1.1"/><rect x="1100.6" y="1173.1" width="19.8" height="21.4" fill="#1eaaec"/><path d="M1100.6 1173.1L1120.4 1194.5M1120.4 1173.1L1100.6 1194.5" stroke="#111" stroke-width="1.1"/><path d="M1019.1 1133.4V1194.5M1039.2 1133.4V1194.5M1058.8 1133.4V1194.5M1080.5 1133.4V1194.5M1100.6 1133.4V1194.5M1120.4 1133.4V1194.5M1019.1 1133.4H1120.4M1019.1 1153.3H1120.4M1019.1 1173.1H1120.4M1019.1 1194.5H1120.4" stroke="#111" stroke-width="1.25" fill="none" stroke-linecap="square"/><text x="1029.2" y="1148.0" font-size="13" text-anchor="middle">I</text><text x="1029.2" y="1167.9" font-size="13" text-anchor="middle">0</text><text x="1029.2" y="1188.5" font-size="13" text-anchor="middle">II</text></svg><svg width="1500" height="2162"><text x="1188.3" y="386.6" font-size="24" textLength="104.3" lengthAdjust="spacingAndGlyphs">CH0801-Y</text><text x="1316.6" y="386.6" font-size="24" textLength="56.2" lengthAdjust="spacingAndGlyphs">52/01</text><text x="1395.0" y="386.6" font-size="24" textLength="7.6" lengthAdjust="spacingAndGlyphs">-</text><rect x="1297.1" y="369.7" width="16.6" height="16.6" fill="none" stroke="#1a1a1a" stroke-width="1.4"/><rect x="1377.3" y="371.7" width="14.4" height="14.6" fill="none" stroke="#1a1a1a" stroke-width="1.4"/><rect x="1406.7" y="370.7" width="16.2" height="15.6" fill="none" stroke="#1a1a1a" stroke-width="1.4"/><rect x="1430.3" y="370.7" width="16.0" height="15.6" fill="none" stroke="#1a1a1a" stroke-width="1.4"/><text x="1188.3" y="531.0" font-size="24" textLength="104.3" lengthAdjust="spacingAndGlyphs">CH0801-Y</text><text x="1316.6" y="531.0" font-size="24" textLength="56.2" lengthAdjust="spacingAndGlyphs">50/02</text><text x="1395.0" y="531.0" font-size="24" textLength="7.6" lengthAdjust="spacingAndGlyphs">-</text><rect x="1297.1" y="514.1" width="16.6" height="16.6" fill="none" stroke="#1a1a1a" stroke-width="1.4"/><rect x="1377.3" y="516.1" width="14.4" height="14.6" fill="none" stroke="#1a1a1a" stroke-width="1.4"/><rect x="1406.7" y="515.1" width="16.2" height="15.6" fill="none" stroke="#1a1a1a" stroke-width="1.4"/><rect x="1430.3" y="515.1" width="16.0" height="15.6" fill="none" stroke="#1a1a1a" stroke-width="1.4"/><text x="1188.3" y="654.6" font-size="24" textLength="104.3" lengthAdjust="spacingAndGlyphs">CH0801-Y</text><text x="1316.6" y="654.6" font-size="24" textLength="56.2" lengthAdjust="spacingAndGlyphs">50/03</text><text x="1395.0" y="654.6" font-size="24" textLength="7.6" lengthAdjust="spacingAndGlyphs">-</text><rect x="1297.1" y="637.7" width="16.6" height="16.6" fill="none" stroke="#1a1a1a" stroke-width="1.4"/><rect x="1377.3" y="639.7" width="14.4" height="14.6" fill="none" stroke="#1a1a1a" stroke-width="1.4"/><rect x="1406.7" y="638.7" width="16.2" height="15.6" fill="none" stroke="#1a1a1a" stroke-width="1.4"/><rect x="1430.3" y="638.7" width="16.0" height="15.6" fill="none" stroke="#1a1a1a" stroke-width="1.4"/><text x="1188.3" y="781.0" font-size="24" textLength="104.3" lengthAdjust="spacingAndGlyphs">CH0801-Y</text><text x="1316.6" y="781.0" font-size="24" textLength="56.2" lengthAdjust="spacingAndGlyphs">52/04</text><text x="1395.0" y="781.0" font-size="24" textLength="7.6" lengthAdjust="spacingAndGlyphs">-</text><rect x="1297.1" y="764.1" width="16.6" height="16.6" fill="none" stroke="#1a1a1a" stroke-width="1.4"/><rect x="1377.3" y="766.1" width="14.4" height="14.6" fill="none" stroke="#1a1a1a" stroke-width="1.4"/><rect x="1406.7" y="765.1" width="16.2" height="15.6" fill="none" stroke="#1a1a1a" stroke-width="1.4"/><rect x="1430.3" y="765.1" width="16.0" height="15.6" fill="none" stroke="#1a1a1a" stroke-width="1.4"/><text x="1188.3" y="909.0" font-size="24" textLength="104.3" lengthAdjust="spacingAndGlyphs">CH0801-Y</text><text x="1316.6" y="909.0" font-size="24" textLength="56.2" lengthAdjust="spacingAndGlyphs">50/15</text><text x="1395.0" y="909.0" font-size="24" textLength="7.6" lengthAdjust="spacingAndGlyphs">-</text><rect x="1297.1" y="892.1" width="16.6" height="16.6" fill="none" stroke="#1a1a1a" stroke-width="1.4"/><rect x="1377.3" y="894.1" width="14.4" height="14.6" fill="none" stroke="#1a1a1a" stroke-width="1.4"/><rect x="1406.7" y="893.1" width="16.2" height="15.6" fill="none" stroke="#1a1a1a" stroke-width="1.4"/><rect x="1430.3" y="893.1" width="16.0" height="15.6" fill="none" stroke="#1a1a1a" stroke-width="1.4"/><text x="1188.3" y="1051.6" font-size="24" textLength="104.3" lengthAdjust="spacingAndGlyphs">CH0801-Y</text><text x="1316.6" y="1051.6" font-size="24" textLength="56.2" lengthAdjust="spacingAndGlyphs">52/16</text><text x="1395.0" y="1051.6" font-size="24" textLength="7.6" lengthAdjust="spacingAndGlyphs">-</text><rect x="1297.1" y="1034.7" width="16.6" height="16.6" fill="none" stroke="#1a1a1a" stroke-width="1.4"/><rect x="1377.3" y="1036.7" width="14.4" height="14.6" fill="none" stroke="#1a1a1a" stroke-width="1.4"/><rect x="1406.7" y="1035.7" width="16.2" height="15.6" fill="none" stroke="#1a1a1a" stroke-width="1.4"/><rect x="1430.3" y="1035.7" width="16.0" height="15.6" fill="none" stroke="#1a1a1a" stroke-width="1.4"/><text x="1188.3" y="1185.2" font-size="24" textLength="104.3" lengthAdjust="spacingAndGlyphs">CH0801-Y</text><text x="1316.6" y="1185.2" font-size="24" textLength="56.2" lengthAdjust="spacingAndGlyphs">52/17</text><text x="1395.0" y="1185.2" font-size="24" textLength="7.6" lengthAdjust="spacingAndGlyphs">-</text><rect x="1297.1" y="1168.3" width="16.6" height="16.6" fill="none" stroke="#1a1a1a" stroke-width="1.4"/><rect x="1377.3" y="1170.3" width="14.4" height="14.6" fill="none" stroke="#1a1a1a" stroke-width="1.4"/><rect x="1406.7" y="1169.3" width="16.2" height="15.6" fill="none" stroke="#1a1a1a" stroke-width="1.4"/><rect x="1430.3" y="1169.3" width="16.0" height="15.6" fill="none" stroke="#1a1a1a" stroke-width="1.4"/></svg><svg width="1500" height="2162"><path d="M1305.0 1190.5V1299.8H1142" fill="none" stroke="#231815" stroke-width="1.5"/><path d="M1130.6 1299.8L1143.4 1293.5L1143.4 1306.1Z" fill="#231815"/><path d="M1361.8 1190.0V1362.1H1142" fill="none" stroke="#231815" stroke-width="1.5"/><path d="M1130.6 1362.1L1143.4 1355.8L1143.4 1368.4Z" fill="#231815"/><path d="M1386.6 1190.5V1424.6H1142" fill="none" stroke="#231815" stroke-width="1.5"/><path d="M1130.6 1424.6L1143.4 1418.3L1143.4 1430.9Z" fill="#231815"/><path d="M1416.9 1190.5V1478.3H1142" fill="none" stroke="#231815" stroke-width="1.5"/><path d="M1130.6 1478.3L1143.4 1472.0L1143.4 1484.6Z" fill="#231815"/><path d="M1438.4 1190.5V1529.2H1142" fill="none" stroke="#231815" stroke-width="1.5"/><path d="M1130.6 1529.2L1143.4 1522.9L1143.4 1535.5Z" fill="#231815"/><path d="M1353 1190.0H1369.6" stroke="#231815" stroke-width="1.5"/></svg><div class="a co" id="co0" style="right:377.6px;top:1291.3px;letter-spacing:1.35px">可选板前型<span class="d"></span><i>6,</i>&nbsp;&nbsp;板后型<span class="d"></span><i>7</i></div><div class="a co" id="co1" style="right:376.5px;top:1351.5px;letter-spacing:2.5px">其他形式标识牌详见<i>:B22</i>页</div><div class="a co" id="co2" style="right:378.0px;top:1412.6px;letter-spacing:0.97px">可选<i>N.G</i>或<i>M,</i>&nbsp;&nbsp;<i style="color:#e60012">N</i>为常规可不注</div><div class="a co" id="co3" style="right:378.5px;top:1472.8px;letter-spacing:0.5px">可选<i>A</i>款<span class="d"></span><i>A</i>或<i>B</i>款<span class="d"></span><i>B</i></div><div class="a co" id="co4" style="right:378.0px;top:1517.1px;letter-spacing:1.04px"><i>G:</i> 通用钥匙或<i>N:</i> 不通用钥匙</div><div class="a co" id="cl0" style="left:1158.4px;top:1269.8px;letter-spacing:1.6px">模块安装方式</div><div class="a co" id="cl1" style="left:1168.6px;top:1397.1px;letter-spacing:1.5px">操作头类别</div><div class="a co" id="cl2" style="left:1165.0px;top:1447.5px;letter-spacing:1.6px">模块外形结构</div><svg width="1500" height="2162"><rect x="20.6" y="1441" width="487.2" height="135.2" fill="none" stroke="#111" stroke-width="1.35"/></svg><div class="a" id="lg" style="left:83px;top:1495px;font-size:26px;color:#1a1a1a;-webkit-text-stroke:0.35px #1a1a1a">标记说明</div><svg width="1500" height="2162"><path d="M242.8 1479.5L278.7 1535.6L314.6 1479.5M375.1 1479.5L411.4 1535.6L447.4 1479.5" fill="none" stroke="#111" stroke-width="1.5"/><path d="M438.2 1493.4Q422 1487.6 405 1489.2" fill="none" stroke="#111" stroke-width="1.1"/><path d="M396 1489.9L405.2 1487L405.4 1492.2Z" fill="#fff" stroke="#111" stroke-width="1"/></svg><div class="a" style="left:309.5px;top:1517.5px;font-size:19px;color:#1a1a1a;-webkit-text-stroke:0.45px #1a1a1a">锁定</div><div class="a" style="left:433.5px;top:1517.5px;font-size:19px;color:#1a1a1a;-webkit-text-stroke:0.45px #1a1a1a">复位</div><div class="a cap" style="left:125.3px;top:615.0px;width:300px;text-align:center;text-indent:2.5px">塑料外罩<span class="d"></span><i>N</i></div><div class="a cap" style="left:125.3px;top:901.5px;width:300px;text-align:center;text-indent:2.5px">金属外罩<span class="d"></span><i>G</i></div><div class="a cap" style="left:125.3px;top:1273.9px;width:300px;text-align:center;text-indent:2.5px">带帽外罩<span class="d"></span><i>M</i></div><div class="a" style="left:20.5px;top:1626px;width:693.5px;height:60px;background:#e4e4e4"></div><div class="a" id="bt" style="left:44.5px;top:1645.5px;font-size:22px;letter-spacing:0.5px;color:#1a1a1a;-webkit-text-stroke:0.45px #1a1a1a">防爆按钮、开关模块图样</div><div class="a" style="left:27.5px;top:1988.3px;width:693.5px;height:35.5px;background:#ececec"></div><div class="a" style="left:762.5px;top:1988.3px;width:693.5px;height:35.5px;background:#ececec"></div><div class="a bl2" style="left:41.0px;top:1994.3px;font-size:21px;letter-spacing:1.8px;color:#222"><i>A</i>款</div><div class="a bl2" style="left:194.6px;top:1994.3px;font-size:21px;letter-spacing:1.8px;color:#222">板前型四级<span class="d"></span><i>6</i></div><div class="a bl2" style="left:516.1px;top:1994.3px;font-size:21px;letter-spacing:1.8px;color:#222">板后型四级<span class="d"></span><i>7</i></div><div class="a bl2" style="left:776.4px;top:1994.3px;font-size:21px;letter-spacing:1.8px;color:#222"><i>B</i>款</div><div class="a bl2" style="left:917.1px;top:1994.3px;font-size:21px;letter-spacing:1.8px;color:#222">板前型四级<span class="d"></span><i>6</i></div><div class="a bl2" style="left:1251.1px;top:1994.3px;font-size:21px;letter-spacing:1.8px;color:#222">板后型四级<span class="d"></span><i>7</i></div><div class="a" id="ft" style="left:1004.6px;top:2108.3px;font-size:25.8px;letter-spacing:1.25px;color:#231815">www.yuxuan.cc/www.yx-ex.com</div><div class="a" id="ft2" style="left:1415.2px;top:2108.3px;font-size:26.4px;letter-spacing:1.2px;color:#231815">C/18</div><svg width="1500" height="2162"><defs>
<linearGradient id="gb1" x1="0" y1="0" x2="0.25" y2="1"><stop offset="0" stop-color="#2f3744"/><stop offset="0.18" stop-color="#4a5465"/><stop offset="0.45" stop-color="#39414f"/><stop offset="0.75" stop-color="#485264"/><stop offset="1" stop-color="#2b323e"/></linearGradient>
<linearGradient id="gy" x1="0" y1="0" x2="0.2" y2="1"><stop offset="0" stop-color="#f2e74a"/><stop offset="0.5" stop-color="#f9f257"/><stop offset="1" stop-color="#ead93a"/></linearGradient>
<linearGradient id="gs" x1="0" y1="0" x2="1" y2="1"><stop offset="0" stop-color="#e9e9e9"/><stop offset="0.45" stop-color="#d0d0d0"/><stop offset="1" stop-color="#a9a9a9"/></linearGradient>
<linearGradient id="gs2" x1="0" y1="0" x2="1" y2="1"><stop offset="0" stop-color="#ffffff"/><stop offset="0.6" stop-color="#e4e4e4"/><stop offset="1" stop-color="#c4c4c4"/></linearGradient>
<linearGradient id="gk" x1="0" y1="0" x2="1" y2="1"><stop offset="0" stop-color="#d8d8d6"/><stop offset="0.5" stop-color="#b4b4b2"/><stop offset="1" stop-color="#8e8e8c"/></linearGradient>
<linearGradient id="gm" x1="0" y1="0" x2="0.3" y2="1"><stop offset="0" stop-color="#9a9a98"/><stop offset="0.12" stop-color="#e9e9e7"/><stop offset="0.3" stop-color="#c9c9c7"/><stop offset="0.5" stop-color="#8f908e"/><stop offset="0.7" stop-color="#d6d6d4"/><stop offset="0.88" stop-color="#a5a5a3"/><stop offset="1" stop-color="#6f706e"/></linearGradient>
<linearGradient id="gbl" x1="0" y1="0" x2="1" y2="1"><stop offset="0" stop-color="#5aa7e6"/><stop offset="1" stop-color="#2f7ec6"/></linearGradient>
<linearGradient id="gcap" x1="0" y1="0" x2="0.6" y2="1"><stop offset="0" stop-color="#4b5364"/><stop offset="1" stop-color="#333a48"/></linearGradient>
<linearGradient id="gb3" x1="0" y1="0" x2="1" y2="0.4"><stop offset="0" stop-color="#2a303b"/><stop offset="0.5" stop-color="#3c4453"/><stop offset="1" stop-color="#2c323e"/></linearGradient>
<filter id="soft" x="-5%" y="-5%" width="110%" height="110%"><feGaussianBlur stdDeviation="2.2"/></filter>
</defs><g transform="translate(140,380) scale(0.18)" filter="url(#soft)"><path d="M250 88L335 115L300 640L175 642L75 595L62 522L108 480L98 185L135 122Z" fill="#20242c"/><path d="M150 300L250 250L255 560L150 600Z" fill="#3a404a"/><path d="M335 118C400 85 480 66 565 62C680 62 830 120 935 232L1030 335L940 700L850 1065L700 1060C560 1010 400 930 245 825C185 720 160 560 175 430C195 310 260 180 335 118Z" fill="url(#gb1)"/><path d="M330 150C430 100 560 95 700 150" fill="none" stroke="#5b6678" stroke-width="26" stroke-linecap="round" opacity="0.55"/><g transform="rotate(11.6 787 663)"><ellipse cx="787" cy="663" rx="316" ry="378" fill="url(#gy)"/></g><path d="M760 300L1015 322L850 1065L700 1030L600 700Z" fill="url(#gy)"/><text x="0" y="0" font-size="92" transform="translate(595 640) rotate(-78)" style="fill:#3a3520">分</text><g transform="rotate(11.6 937 693)"><ellipse cx="937" cy="693" rx="312" ry="374" fill="#2b313c"/><ellipse cx="940" cy="693" rx="274" ry="337" fill="url(#gs)"/></g><g transform="rotate(11.6 965 688)"><ellipse cx="965" cy="688" rx="168" ry="208" fill="#8f99a6"/><ellipse cx="968" cy="688" rx="146" ry="184" fill="url(#gs2)"/></g><path d="M1040 412L1052 378" stroke="#555" stroke-width="7"/><text x="715" y="668" font-size="62" style="fill:#777" transform="rotate(10 740 645)">0</text><g transform="rotate(11 1250 815)"><ellipse cx="1250" cy="815" rx="190" ry="46" fill="none" stroke="#9a9a98" stroke-width="30"/><ellipse cx="1250" cy="808" rx="190" ry="46" fill="none" stroke="#dededc" stroke-width="9"/></g><path d="M872 640L1000 655L1225 745L1215 800L1000 740L865 700Z" fill="#8e8e8c"/><path d="M885 655L1000 672L1215 762" fill="none" stroke="#c9c9c7" stroke-width="12"/><ellipse cx="975" cy="640" rx="58" ry="40" fill="#b5b1a8"/></g><g transform="translate(130,690) scale(0.19333)" filter="url(#soft)"><path d="M175 80L250 40L335 45L345 600L250 640L200 600L120 590L85 520L95 380L165 330Z" fill="url(#gbl)"/><path d="M330 70L420 55L400 720L270 700L205 610L215 420L270 200Z" fill="#23262c"/><path d="M420 55C520 35 640 38 760 85L960 235L900 890L700 900C560 870 400 790 285 690C265 560 280 300 420 55Z" fill="url(#gm)"/><path d="M420 55C300 260 270 520 290 690" fill="none" stroke="#5c5d5c" stroke-width="18" opacity="0.6"/><path d="M760 85C640 240 580 480 620 880" fill="none" stroke="#77787a" stroke-width="14" opacity="0.55"/><path d="M600 292C690 240 760 210 835 195L1060 235L900 890L720 880L605 812C545 700 540 430 600 292Z" fill="url(#gy)"/><text x="0" y="0" font-size="88" transform="translate(690 525) rotate(-74)" style="fill:#3a3520">手动</text><g transform="rotate(13 985 562)"><ellipse cx="985" cy="562" rx="246" ry="332" fill="#2a2f38"/><ellipse cx="989" cy="562" rx="216" ry="298" fill="url(#gs)"/></g><g transform="rotate(13 1000 572)"><ellipse cx="1000" cy="572" rx="142" ry="186" fill="#2e343e"/><ellipse cx="1003" cy="572" rx="118" ry="160" fill="#dcdcda"/></g><text x="965" y="360" font-size="70" style="fill:#666">0</text><text x="1130" y="425" font-size="60" style="fill:#666" transform="rotate(35 1150 410)">II</text><text x="800" y="540" font-size="60" style="fill:#666" transform="rotate(-60 815 520)">I</text><path d="M975 500L1100 470L1120 700L990 690Z" fill="#8d8d8b"/><path d="M975 500L1000 497L1005 690L990 690Z" fill="#4a4a48"/><path d="M1100 520C1130 430 1270 420 1350 520C1430 640 1440 760 1370 815C1290 860 1160 780 1120 700L1140 640L1095 600Z" fill="url(#gk)"/><ellipse cx="1302" cy="692" rx="44" ry="50" fill="#eeeeec" stroke="#8a8a88" stroke-width="8"/></g><g transform="translate(140,1010) scale(0.186667)" filter="url(#soft)"><path d="M120 545L195 520L200 770L130 750Z" fill="#23272e"/><path d="M195 215L380 360L600 430L1000 400L1060 440L1060 1000L900 1110L640 1062C500 1020 360 950 265 895L225 830L218 600L190 420Z" fill="url(#gb3)"/><path d="M480 520C560 440 700 420 820 450L780 1090C650 1060 540 1000 480 900C455 780 455 640 480 520Z" fill="#2c323d"/><path d="M195 215C240 150 300 125 360 112C520 75 760 45 1000 58C1100 66 1200 100 1262 140C1290 170 1285 210 1245 235C1140 240 1010 255 900 295C790 335 690 385 612 432L360 366Z" fill="url(#gcap)"/><path d="M585 335C680 280 800 230 920 200C1040 172 1180 165 1283 172C1290 200 1275 225 1245 236C1140 240 1010 255 900 295C790 335 690 385 612 432L582 424Z" fill="#2b313c"/><path d="M360 366L582 424L585 335" fill="none" stroke="#2a2f39" stroke-width="10"/><path d="M612 432C690 385 790 335 900 295C935 282 970 270 1000 262L1062 250L1062 440L1000 402L820 450Z" fill="#353c4a"/><path d="M1000 262L1062 250L1062 440L1000 402Z" fill="#262b34"/><g transform="rotate(12 975 762)"><ellipse cx="975" cy="762" rx="256" ry="342" fill="#2a2f39"/><ellipse cx="979" cy="762" rx="226" ry="306" fill="url(#gs)"/></g><g transform="rotate(12 987 772)"><ellipse cx="987" cy="772" rx="152" ry="198" fill="#2e333d"/><ellipse cx="990" cy="772" rx="128" ry="172" fill="#d4d4d2"/></g><text x="995" y="525" font-size="78" font-style="italic" style="fill:#555">0</text><text x="795" y="650" font-size="66" style="fill:#555" transform="rotate(-35 805 630)">I</text><path d="M880 650L1060 680L1070 900L900 860Z" fill="#8a8a88"/><path d="M955 760L1060 775L1060 860L955 845Z" fill="#3c3c3a"/><g transform="rotate(-13 1215 850)"><ellipse cx="1215" cy="850" rx="142" ry="246" fill="url(#gk)"/><ellipse cx="1205" cy="850" rx="120" ry="225" fill="#c2c2c0" opacity="0.55"/></g><ellipse cx="1243" cy="872" rx="40" ry="48" fill="#efefed" stroke="#8a8a88" stroke-width="8"/></g></svg><svg width="1500" height="2162"><defs><linearGradient id="gr" x1="0" y1="0" x2="0.3" y2="1"><stop offset="0" stop-color="#e23a44"/><stop offset="0.5" stop-color="#d9242f"/><stop offset="1" stop-color="#c41d28"/></linearGradient><linearGradient id="gg" x1="0" y1="0" x2="1" y2="1"><stop offset="0" stop-color="#dfe3ea"/><stop offset="1" stop-color="#b4bbc7"/></linearGradient><linearGradient id="gw" x1="0" y1="0" x2="1" y2="1"><stop offset="0" stop-color="#efefed"/><stop offset="1" stop-color="#cfcfcb"/></linearGradient><linearGradient id="gd" x1="0" y1="0" x2="0.4" y2="1"><stop offset="0" stop-color="#47484b"/><stop offset="1" stop-color="#2c2d30"/></linearGradient><radialGradient id="gn" cx="0.4" cy="0.4" r="0.7"><stop offset="0" stop-color="#f0efea"/><stop offset="1" stop-color="#a9a7a0"/></radialGradient></defs><g transform="translate(110,1710) scale(0.186667)" filter="url(#soft)"><path d="M262 290L268 165L330 140L380 160L385 250L405 250L410 150L470 140L490 165L492 300Z" fill="#c3c9d4"/><path d="M755 255L760 85L830 55L870 75L875 170L900 170L905 70L960 55L978 85L975 250Z" fill="#c6ccd7"/><path d="M575 250L760 225L765 300L580 320Z" fill="#cfd4dd"/><path d="M65 335L165 300L480 290L480 330L350 380L390 1090L300 1050L215 1040L200 1010L95 1012L100 880L70 860Z" fill="url(#gg)"/><path d="M180 470L345 455L375 1000L300 990Z" fill="#d9dce2"/><path d="M225 490L340 482" stroke="#7d828c" stroke-width="9" opacity="0.7"/><path d="M233 542L343 534" stroke="#7d828c" stroke-width="9" opacity="0.7"/><path d="M241 594L346 586" stroke="#7d828c" stroke-width="9" opacity="0.7"/><path d="M249 646L349 638" stroke="#7d828c" stroke-width="9" opacity="0.7"/><path d="M257 698L352 690" stroke="#7d828c" stroke-width="9" opacity="0.7"/><path d="M265 750L355 742" stroke="#7d828c" stroke-width="9" opacity="0.7"/><path d="M273 802L358 794" stroke="#7d828c" stroke-width="9" opacity="0.7"/><path d="M281 854L361 846" stroke="#7d828c" stroke-width="9" opacity="0.7"/><path d="M289 906L364 898" stroke="#7d828c" stroke-width="9" opacity="0.7"/><path d="M345 372L480 305L655 300L690 250L985 238L1010 212L1290 215L1300 330L1390 375L1350 945L1262 1012L1030 1020L1022 1100L390 1100L372 900Z" fill="url(#gr)"/><path d="M345 372L480 305L655 300L690 250L985 238L1010 212L1290 215L1300 330L1215 372L1190 300L1130 300L1110 330L830 380L800 330L660 345L640 420L470 470Z" fill="#e8505a" opacity="0.55"/><path d="M390 1100L385 985L640 960L650 900L1040 870L1030 1020L1022 1100Z" fill="#b81a25" opacity="0.6"/><circle cx="990" cy="650" r="212" fill="#c0202b"/><circle cx="985" cy="655" r="182" fill="#7a1a20"/><path d="M820 560L960 470L1000 505L1110 490L1165 620L1160 720L1010 830L940 800L830 780Z" fill="#ddd2bd"/><path d="M810 680L1170 600L1172 632L812 708Z" fill="#5a2a28"/><path d="M1225 440L1385 378L1347 772L1230 745Z" fill="#f2f0ea"/><path d="M1305 520L1322 700" stroke="#d8404a" stroke-width="16"/><path d="M1268 560L1280 720M1345 470L1350 560" stroke="#888" stroke-width="8"/><circle cx="495" cy="430" r="20" fill="#3a1416"/><circle cx="720" cy="385" r="20" fill="#3a1416"/><circle cx="1010" cy="335" r="20" fill="#3a1416"/><circle cx="1225" cy="300" r="20" fill="#3a1416"/><circle cx="520" cy="985" r="20" fill="#3a1416"/><circle cx="745" cy="935" r="20" fill="#3a1416"/><circle cx="1245" cy="825" r="20" fill="#3a1416"/></g><g transform="translate(440,1720) scale(0.186667)" filter="url(#soft)"><path d="M95 190L150 158L555 138L562 172L140 215L155 775L112 792Z" fill="#d2402f"/><path d="M135 212L560 170L762 396L492 482L432 832L250 902L152 772Z" fill="url(#gg)"/><path d="M300 240L572 224L592 372L342 412Z" fill="#f3f2ee"/><path d="M350 300L560 290" stroke="#d8404a" stroke-width="12"/><path d="M345 258L460 250M385 350L575 335" stroke="#777" stroke-width="7"/><path d="M190 380L270 374" stroke="#4d525c" stroke-width="9" opacity="0.8"/><path d="M190 420L285 414" stroke="#4d525c" stroke-width="9" opacity="0.8"/><path d="M190 460L300 454" stroke="#4d525c" stroke-width="9" opacity="0.8"/><path d="M190 500L270 494" stroke="#4d525c" stroke-width="9" opacity="0.8"/><path d="M190 540L285 534" stroke="#4d525c" stroke-width="9" opacity="0.8"/><path d="M190 580L300 574" stroke="#4d525c" stroke-width="9" opacity="0.8"/><path d="M190 620L270 614" stroke="#4d525c" stroke-width="9" opacity="0.8"/><path d="M190 660L285 654" stroke="#4d525c" stroke-width="9" opacity="0.8"/><path d="M190 700L300 694" stroke="#4d525c" stroke-width="9" opacity="0.8"/><path d="M190 740L270 734" stroke="#4d525c" stroke-width="9" opacity="0.8"/><path d="M600 125L1090 70L1100 112L640 152L640 190L600 176Z" fill="#d2402f"/><path d="M640 150L1100 110L1120 200L1010 332L880 440L762 396L572 182L600 176Z" fill="url(#gg)"/><path d="M568 176L764 398" stroke="#8d93a0" stroke-width="9"/><path d="M590 398L830 322L905 335L900 500L790 520L780 440L600 432Z" fill="#2b2c2f"/><path d="M470 470C520 440 700 410 790 420L800 760C700 790 560 790 470 760C440 700 440 540 470 470Z" fill="url(#gd)"/><path d="M1250 380L1400 360C1440 400 1445 650 1420 720L1270 740Z" fill="url(#gd)"/><path d="M560 520C620 500 700 500 740 505L745 720C690 735 610 735 560 720Z" fill="#4c4d50"/><path d="M1075 185L1150 122L1290 150L1312 230L1242 402L1130 432L990 440L870 470L830 420Z" fill="#303134"/><path d="M1150 122L1290 150L1312 230L1180 200Z" fill="#45464a"/><circle cx="1030" cy="690" r="268" fill="#2d2e31"/><circle cx="1030" cy="690" r="205" fill="#3f4043"/><circle cx="1020" cy="680" r="170" fill="#1c1d1f"/><path d="M905 600L1000 530L1100 560L1110 720L1010 790L905 740Z" fill="url(#gn)"/><path d="M850 640L1110 600L1112 622L852 664Z" fill="#151515"/></g><g transform="translate(840,1710) scale(0.186667)" filter="url(#soft)"><path d="M440 130L450 85C470 60 580 55 600 80L605 130Z" fill="#3a3b3e"/><path d="M375 150L690 110L702 262L390 302Z" fill="url(#gw)"/><path d="M100 335L325 310L420 1095L340 1012L170 902L165 840L120 820L112 545Z" fill="url(#gw)"/><path d="M175 470L300 465" stroke="#9a9a98" stroke-width="9" opacity="0.75"/><path d="M181 525L306 520" stroke="#9a9a98" stroke-width="9" opacity="0.75"/><path d="M187 580L312 575" stroke="#9a9a98" stroke-width="9" opacity="0.75"/><path d="M193 635L318 630" stroke="#9a9a98" stroke-width="9" opacity="0.75"/><path d="M199 690L324 685" stroke="#9a9a98" stroke-width="9" opacity="0.75"/><path d="M205 745L330 740" stroke="#9a9a98" stroke-width="9" opacity="0.75"/><path d="M211 800L336 795" stroke="#9a9a98" stroke-width="9" opacity="0.75"/><path d="M217 855L342 850" stroke="#9a9a98" stroke-width="9" opacity="0.75"/><path d="M325 320L1310 180L1345 230L1350 345L1400 350L1440 720L1390 762L1385 932L420 1097L372 1050Z" fill="url(#gd)"/><path d="M455 510L780 470L800 870L500 900Z" fill="#4a4b4e"/><path d="M1100 410L1395 360L1430 710L1130 760Z" fill="#47484b"/><circle cx="960" cy="640" r="222" fill="#242527"/><circle cx="950" cy="640" r="196" fill="#141415"/><path d="M760 520L880 440L1060 470L1100 520L1090 720L1000 800L800 780L748 700Z" fill="#f3f2ee"/><path d="M745 640L1110 585L1112 612L747 668Z" fill="#101010"/><path d="M395 357L565 333L571 458L401 482Z" fill="#222325"/><path d="M660 322L830 298L836 418L666 442Z" fill="#222325"/><path d="M905 282L1080 258L1086 378L911 402Z" fill="#222325"/><path d="M1165 242L1335 218L1341 333L1171 357Z" fill="#222325"/><path d="M455 937L630 913L636 1033L461 1057Z" fill="#222325"/><path d="M710 877L875 853L881 973L716 997Z" fill="#222325"/><path d="M970 847L1140 823L1146 938L976 962Z" fill="#222325"/><path d="M1210 782L1385 758L1391 873L1216 897Z" fill="#222325"/><circle cx="430" cy="400" r="27" fill="#17171a"/><circle cx="428" cy="398" r="13" fill="#b5a45a"/><circle cx="520" cy="390" r="27" fill="#17171a"/><circle cx="518" cy="388" r="13" fill="#b5a45a"/><circle cx="700" cy="365" r="27" fill="#17171a"/><circle cx="698" cy="363" r="13" fill="#b5a45a"/><circle cx="790" cy="350" r="27" fill="#17171a"/><circle cx="788" cy="348" r="13" fill="#b5a45a"/><circle cx="945" cy="325" r="27" fill="#17171a"/><circle cx="943" cy="323" r="13" fill="#b5a45a"/><circle cx="1040" cy="305" r="27" fill="#17171a"/><circle cx="1038" cy="303" r="13" fill="#b5a45a"/><circle cx="1205" cy="280" r="27" fill="#17171a"/><circle cx="1203" cy="278" r="13" fill="#b5a45a"/><circle cx="1290" cy="265" r="27" fill="#17171a"/><circle cx="1288" cy="263" r="13" fill="#b5a45a"/><circle cx="495" cy="980" r="27" fill="#17171a"/><circle cx="493" cy="978" r="13" fill="#b5a45a"/><circle cx="590" cy="965" r="27" fill="#17171a"/><circle cx="588" cy="963" r="13" fill="#b5a45a"/><circle cx="750" cy="920" r="27" fill="#17171a"/><circle cx="748" cy="918" r="13" fill="#b5a45a"/><circle cx="830" cy="900" r="27" fill="#17171a"/><circle cx="828" cy="898" r="13" fill="#b5a45a"/><circle cx="1010" cy="890" r="27" fill="#17171a"/><circle cx="1008" cy="888" r="13" fill="#b5a45a"/><circle cx="1100" cy="860" r="27" fill="#17171a"/><circle cx="1098" cy="858" r="13" fill="#b5a45a"/><circle cx="1250" cy="825" r="27" fill="#17171a"/><circle cx="1248" cy="823" r="13" fill="#b5a45a"/><circle cx="1340" cy="810" r="27" fill="#17171a"/><circle cx="1338" cy="808" r="13" fill="#b5a45a"/></g><g transform="translate(1180,1720) scale(0.186667)" filter="url(#soft)"><path d="M100 300L495 205L502 238L140 302L168 902L126 882Z" fill="#ee7a3a"/><path d="M135 300L500 236L600 262L702 402L462 472L402 562L392 862L312 952L166 902Z" fill="url(#gw)"/><path d="M585 195L1030 100L1042 122L615 217Z" fill="#ee7a3a"/><path d="M615 192L1040 112L1062 192L1000 332L860 460L702 402L598 258Z" fill="url(#gw)"/><path d="M598 258L704 404" stroke="#a9a9a5" stroke-width="9"/><path d="M545 422L800 342L868 352L880 500L800 520L780 432L560 452Z" fill="#2b2c2f"/><path d="M340 235L380 228L388 285L350 292ZM820 140L860 132L868 186L830 194Z" fill="#ee7a3a"/><path d="M185 420L290 415" stroke="#a5a5a2" stroke-width="8" opacity="0.7"/><path d="M185 472L315 467" stroke="#a5a5a2" stroke-width="8" opacity="0.7"/><path d="M185 524L340 519" stroke="#a5a5a2" stroke-width="8" opacity="0.7"/><path d="M185 576L290 571" stroke="#a5a5a2" stroke-width="8" opacity="0.7"/><path d="M185 628L315 623" stroke="#a5a5a2" stroke-width="8" opacity="0.7"/><path d="M185 680L340 675" stroke="#a5a5a2" stroke-width="8" opacity="0.7"/><path d="M185 732L290 727" stroke="#a5a5a2" stroke-width="8" opacity="0.7"/><path d="M185 784L315 779" stroke="#a5a5a2" stroke-width="8" opacity="0.7"/><path d="M470 450C540 420 720 400 800 410L810 860C720 900 560 900 470 860C430 780 430 540 470 450Z" fill="url(#gd)"/><path d="M1230 360L1380 340C1420 380 1420 680 1390 740L1240 745Z" fill="url(#gd)"/><path d="M560 520C620 495 720 490 760 495L765 800C700 825 610 825 560 800Z" fill="#444548"/><path d="M1020 160L1060 125L1200 130L1242 190L1200 420L1100 440L960 430L850 460L790 420Z" fill="#303134"/><path d="M1060 125L1200 130L1242 190L1100 185Z" fill="#47484c"/><circle cx="1020" cy="660" r="262" fill="#2d2e31"/><circle cx="1020" cy="660" r="196" fill="#3d3e41"/><circle cx="1010" cy="655" r="165" fill="#1a1b1d"/><path d="M880 560L980 500L1085 540L1095 730L990 790L880 735Z" fill="url(#gn)"/><path d="M850 650L1075 590L1078 612L852 674Z" fill="#151515"/></g></svg></body></html>
